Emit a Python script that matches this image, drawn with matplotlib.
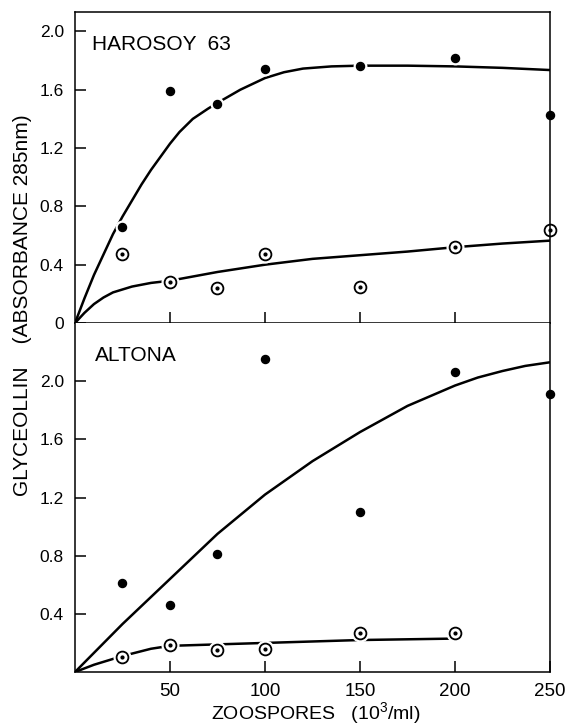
import numpy as np
import matplotlib
matplotlib.use('Agg')
import matplotlib.pyplot as plt

plt.rcParams['font.family'] = ['Liberation Sans', 'DejaVu Sans']
plt.rcParams['mathtext.default'] = 'regular'

# zoospore concentrations (10^3/ml)
zoospores = [25, 50, 75, 100, 150, 200, 250]

# HAROSOY 63
har_filled = [0.66, 1.59, 1.50, 1.74, 1.76, 1.82, 1.43]
har_open = [0.47, 0.28, 0.24, 0.47, 0.25, 0.52, 0.64]
# ALTONA
alt_filled = [0.61, 0.46, 0.81, 2.15, 1.10, 2.06, 1.91]
alt_open_x = [25, 50, 75, 100, 150, 200]
alt_open = [0.10, 0.185, 0.15, 0.157, 0.27, 0.27]

# hand drawn curves
har_fc_x = [0, 5, 10, 15, 20, 25, 30, 35, 40, 45, 50, 55, 62, 70, 75, 87, 100, 110, 120, 135,
            150, 175, 200, 225, 250]
har_fc_y = [0, 0.17, 0.33, 0.47, 0.61, 0.73, 0.84, 0.95, 1.05, 1.14, 1.23, 1.31, 1.40, 1.47, 1.51,
            1.60, 1.68, 1.72, 1.745, 1.76, 1.765, 1.765, 1.76, 1.75, 1.735]
har_oc_x = [0, 5, 10, 15, 20, 30, 40, 50, 75, 100, 125, 150, 175, 200, 225, 250]
har_oc_y = [0, 0.07, 0.13, 0.175, 0.21, 0.25, 0.275, 0.29, 0.35, 0.40, 0.44, 0.465, 0.49, 0.52, 0.545, 0.565]
alt_fc_x = [0, 25, 50, 75, 100, 125, 150, 175, 200, 212, 225, 237, 250]
alt_fc_y = [0, 0.33, 0.64, 0.95, 1.22, 1.45, 1.65, 1.83, 1.97, 2.025, 2.07, 2.105, 2.13]
alt_oc_x = [0, 10, 25, 40, 50, 75, 100, 125, 150, 175, 200]
alt_oc_y = [0, 0.05, 0.11, 0.16, 0.18, 0.19, 0.20, 0.21, 0.22, 0.225, 0.23]

fig = plt.figure(figsize=(5.69, 7.28), dpi=100)
ax1 = fig.add_axes([0.1318, 0.5563, 0.8348, 0.4272])
ax2 = fig.add_axes([0.1318, 0.0769, 0.8348, 0.4794])

def draw_points(ax, x, y, hollow):
    for xi, yi in zip(x, y):
        if xi < 250:
            # white halo so the curve breaks around the marker
            ax.plot(xi, yi, 'o', ms=12 if hollow else 9, color='white', zorder=3)
        if hollow:
            ax.plot(xi, yi, 'o', ms=8.5, mfc='white' if xi < 250 else 'none', mec='black',
                    mew=1.3, zorder=4, clip_on=False)
            ax.plot(xi, yi, 'o', ms=2, color='black', zorder=5, clip_on=False)
        else:
            ax.plot(xi, yi, 'o', ms=5.8, color='black', zorder=4, clip_on=False)

ax1.plot(har_fc_x, har_fc_y, 'k-', lw=1.8, zorder=2)
ax1.plot(har_oc_x, har_oc_y, 'k-', lw=1.8, zorder=2)
draw_points(ax1, zoospores, har_filled, False)
draw_points(ax1, zoospores, har_open, True)

ax2.plot(alt_fc_x, alt_fc_y, 'k-', lw=1.8, zorder=2)
ax2.plot(alt_oc_x, alt_oc_y, 'k-', lw=1.8, zorder=2)
draw_points(ax2, zoospores, alt_filled, False)
draw_points(ax2, alt_open_x, alt_open, True)

ax1.set_xlim(0, 250)
ax1.set_ylim(0, 2.133)
ax2.set_xlim(0, 250)
ax2.set_ylim(0, 2.4)

ax1.set_yticks([0, 0.4, 0.8, 1.2, 1.6, 2.0])
ax1.set_yticklabels(['0', '0.4', '0.8', '1.2', '1.6', '2.0'])
ax1.set_xticks([50, 100, 150, 200])
ax1.set_xticklabels([])
ax2.set_yticks([0.4, 0.8, 1.2, 1.6, 2.0])
ax2.set_yticklabels(['0.4', '0.8', '1.2', '1.6', '2.0'])
ax2.set_xticks([50, 100, 150, 200, 250])

for ax in (ax1, ax2):
    for s in ax.spines.values():
        s.set_linewidth(1.1)
    ax.tick_params(axis='y', direction='in', length=8, width=1.1, labelsize=12.5, pad=8)
    ax.tick_params(axis='x', direction='in', length=8, width=1.1, labelsize=13.5, pad=8)
ax2.spines['top'].set_visible(False)

ax1.text(0.036, 0.897, 'HAROSOY  63', transform=ax1.transAxes, fontsize=15, va='center')
ax2.text(0.042, 0.906, 'ALTONA', transform=ax2.transAxes, fontsize=15, va='center')

fig.text(0.0404, 0.5804, 'GLYCEOLLIN    (ABSORBANCE 285nm)', rotation=90,
         fontsize=15, ha='center', va='center')
fig.text(0.5545, 0.021, 'ZOOSPORES   (10$^3$/ml)', fontsize=14, ha='center', va='center')

fig.savefig('out.png', dpi=100)
